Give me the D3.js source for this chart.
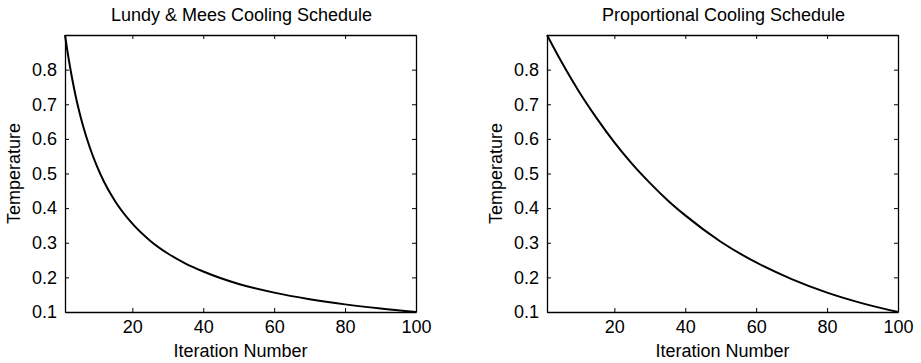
<!DOCTYPE html>
<html>
<head>
<meta charset="utf-8">
<script src="https://cdn.jsdelivr.net/npm/d3@7"></script>
<style>
  body { margin: 0; background: #fff; }
  svg { display: block; }
  text { font-family: "Liberation Sans", Arial, Helvetica, sans-serif; fill: #000; }
</style>
</head>
<body>
<svg id="svg" width="921" height="363"></svg>
<script>
const w = 921;
const h = 363;

// values
const lundyIter = [1, 2, 3, 4, 5, 6, 8, 10, 12, 15, 20, 25, 30, 35, 40, 50, 60, 70, 80, 90, 100];
const lundyTemp = [0.900, 0.833, 0.775, 0.724, 0.680, 0.641, 0.575, 0.521, 0.476, 0.422, 0.355, 0.306, 0.269, 0.240, 0.217, 0.181, 0.156, 0.137, 0.122, 0.110, 0.100];

const propIter = [1, 5, 10, 15, 20, 25, 30, 35, 40, 50, 60, 70, 80, 90, 100];
const propTemp = [0.900, 0.824, 0.737, 0.660, 0.590, 0.528, 0.473, 0.423, 0.379, 0.303, 0.243, 0.195, 0.156, 0.125, 0.100];

const xTicks = [20, 40, 60, 80, 100];
const yTicks = [0.1, 0.2, 0.3, 0.4, 0.5, 0.6, 0.7, 0.8];

const titles = ["Lundy & Mees Cooling Schedule", "Proportional Cooling Schedule"];

const panels = [
  { left: 65, title: titles[0], xs: lundyIter, ys: lundyTemp },
  { left: 547, title: titles[1], xs: propIter, ys: propTemp }
];

const plotTop = 35;
const plotBottom = 312;
const plotW = 351;
const fontSize = 18;
const tickLen = 4;

let svg = d3.select("#svg");

panels.forEach((p) => {
  let xScale = d3.scaleLinear([1, 100], [p.left, p.left + plotW]);
  let yScale = d3.scaleLinear([0.1, 0.9], [plotBottom, plotTop]);

  // axes with inward ticks
  let gx = svg.append("g")
    .attr("transform", `translate(0, ${plotBottom})`)
    .call(d3.axisBottom(xScale).tickValues(xTicks).tickSizeInner(-tickLen).tickSizeOuter(0).tickPadding(8).tickFormat(d3.format("d")));

  let gy = svg.append("g")
    .attr("transform", `translate(${p.left}, 0)`)
    .call(d3.axisLeft(yScale).tickValues(yTicks).tickSizeInner(-tickLen).tickSizeOuter(0).tickPadding(8).tickFormat(d3.format(".1f")));

  let gt = svg.append("g")
    .attr("transform", `translate(0, ${plotTop})`)
    .call(d3.axisTop(xScale).tickValues(xTicks).tickSizeInner(-tickLen).tickSizeOuter(0).tickFormat(""));

  let gr = svg.append("g")
    .attr("transform", `translate(${p.left + plotW}, 0)`)
    .call(d3.axisRight(yScale).tickValues(yTicks).tickSizeInner(-tickLen).tickSizeOuter(0).tickFormat(""));

  [gx, gy, gt, gr].forEach((g) => {
    g.selectAll("path.domain").attr("stroke", "#000").attr("stroke-width", 1.3);
    g.selectAll(".tick line").attr("stroke", "#000").attr("stroke-width", 1);
    g.selectAll(".tick text")
      .style("font-family", '"Liberation Sans", Arial, sans-serif')
      .style("font-size", fontSize + "px")
      .attr("fill", "#000");
  });

  // curve
  let lineFunc = d3.line()
    .x((d) => xScale(d[0]))
    .y((d) => yScale(d[1]))
    .curve(d3.curveMonotoneX);

  svg.append("path")
    .datum(p.xs.map((x, i) => [x, p.ys[i]]))
    .attr("fill", "none")
    .attr("stroke", "#000")
    .attr("stroke-width", 2)
    .attr("d", lineFunc);

  // title
  svg.append("text")
    .attr("x", p.left + plotW / 2 + 1)
    .attr("y", 21)
    .attr("text-anchor", "middle")
    .style("font-size", fontSize + "px")
    .text(p.title);

  // x label
  svg.append("text")
    .attr("x", p.left + plotW / 2)
    .attr("y", 357)
    .attr("text-anchor", "middle")
    .style("font-size", fontSize + "px")
    .text("Iteration Number");

  // y label
  svg.append("text")
    .attr("transform", `translate(${p.left - 45}, ${(plotTop + plotBottom) / 2}) rotate(-90)`)
    .attr("text-anchor", "middle")
    .style("font-size", fontSize + "px")
    .text("Temperature");
});
</script>
</body>
</html>
